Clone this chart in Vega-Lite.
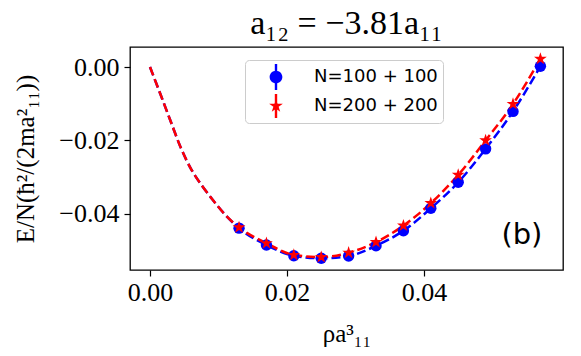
{
  "$schema": "https://vega.github.io/schema/vega-lite/v6.json",
  "width": 433,
  "height": 223,
  "autosize": {"type": "none"},
  "padding": {"left": 130, "top": 47, "right": 18, "bottom": 86},
  "background": "white",
  "title": {
    "text": "a₁₂ = −3.81a₁₁",
    "font": "Liberation Serif",
    "fontSize": 34,
    "fontWeight": "normal",
    "color": "black",
    "anchor": "middle",
    "offset": 6
  },
  "config": {
    "view": {"stroke": "black", "strokeWidth": 1.3},
    "axis": {
      "grid": false,
      "domain": false,
      "labelFont": "Liberation Serif",
      "labelFontSize": 26,
      "labelColor": "black",
      "tickColor": "black",
      "tickSize": 6,
      "tickWidth": 1.2,
      "titleFont": "Liberation Serif",
      "titleFontSize": 25,
      "titleFontWeight": "normal",
      "titleColor": "black"
    }
  },
  "datasets": {
    "points": [
      {"x": 0.013, "y": -0.0439, "series": "N=100 + 100"},
      {"x": 0.017, "y": -0.0485, "series": "N=100 + 100"},
      {"x": 0.021, "y": -0.0514, "series": "N=100 + 100"},
      {"x": 0.025, "y": -0.0521, "series": "N=100 + 100"},
      {"x": 0.029, "y": -0.0515, "series": "N=100 + 100"},
      {"x": 0.033, "y": -0.0487, "series": "N=100 + 100"},
      {"x": 0.037, "y": -0.0446, "series": "N=100 + 100"},
      {"x": 0.041, "y": -0.0385, "series": "N=100 + 100"},
      {"x": 0.045, "y": -0.0314, "series": "N=100 + 100"},
      {"x": 0.049, "y": -0.0223, "series": "N=100 + 100"},
      {"x": 0.053, "y": -0.0121, "series": "N=100 + 100"},
      {"x": 0.057, "y": 0.0002, "series": "N=100 + 100"},
      {"x": 0.013, "y": -0.0437, "series": "N=200 + 200"},
      {"x": 0.017, "y": -0.0480, "series": "N=200 + 200"},
      {"x": 0.021, "y": -0.0512, "series": "N=200 + 200"},
      {"x": 0.025, "y": -0.0518, "series": "N=200 + 200"},
      {"x": 0.029, "y": -0.0506, "series": "N=200 + 200"},
      {"x": 0.033, "y": -0.0477, "series": "N=200 + 200"},
      {"x": 0.037, "y": -0.0432, "series": "N=200 + 200"},
      {"x": 0.041, "y": -0.0371, "series": "N=200 + 200"},
      {"x": 0.045, "y": -0.0294, "series": "N=200 + 200"},
      {"x": 0.049, "y": -0.0200, "series": "N=200 + 200"},
      {"x": 0.053, "y": -0.0101, "series": "N=200 + 200"},
      {"x": 0.057, "y": 0.0022, "series": "N=200 + 200"}
    ],
    "fits": [
      {"x": 0.0, "y": 0.0, "series": "N=100 + 100"},
      {"x": 0.0015, "y": -0.0073, "series": "N=100 + 100"},
      {"x": 0.003, "y": -0.0147, "series": "N=100 + 100"},
      {"x": 0.0045, "y": -0.0220, "series": "N=100 + 100"},
      {"x": 0.006, "y": -0.0278, "series": "N=100 + 100"},
      {"x": 0.0075, "y": -0.0321, "series": "N=100 + 100"},
      {"x": 0.009, "y": -0.0358, "series": "N=100 + 100"},
      {"x": 0.011, "y": -0.0403, "series": "N=100 + 100"},
      {"x": 0.013, "y": -0.0439, "series": "N=100 + 100"},
      {"x": 0.017, "y": -0.0485, "series": "N=100 + 100"},
      {"x": 0.021, "y": -0.0514, "series": "N=100 + 100"},
      {"x": 0.025, "y": -0.0521, "series": "N=100 + 100"},
      {"x": 0.029, "y": -0.0515, "series": "N=100 + 100"},
      {"x": 0.033, "y": -0.0487, "series": "N=100 + 100"},
      {"x": 0.037, "y": -0.0446, "series": "N=100 + 100"},
      {"x": 0.041, "y": -0.0385, "series": "N=100 + 100"},
      {"x": 0.045, "y": -0.0314, "series": "N=100 + 100"},
      {"x": 0.049, "y": -0.0223, "series": "N=100 + 100"},
      {"x": 0.053, "y": -0.0121, "series": "N=100 + 100"},
      {"x": 0.057, "y": 0.0002, "series": "N=100 + 100"},
      {"x": 0.0, "y": 0.0, "series": "N=200 + 200"},
      {"x": 0.0015, "y": -0.0073, "series": "N=200 + 200"},
      {"x": 0.003, "y": -0.0147, "series": "N=200 + 200"},
      {"x": 0.0045, "y": -0.0220, "series": "N=200 + 200"},
      {"x": 0.006, "y": -0.0278, "series": "N=200 + 200"},
      {"x": 0.0075, "y": -0.0321, "series": "N=200 + 200"},
      {"x": 0.009, "y": -0.0358, "series": "N=200 + 200"},
      {"x": 0.011, "y": -0.0403, "series": "N=200 + 200"},
      {"x": 0.013, "y": -0.0437, "series": "N=200 + 200"},
      {"x": 0.017, "y": -0.0480, "series": "N=200 + 200"},
      {"x": 0.021, "y": -0.0512, "series": "N=200 + 200"},
      {"x": 0.025, "y": -0.0518, "series": "N=200 + 200"},
      {"x": 0.029, "y": -0.0506, "series": "N=200 + 200"},
      {"x": 0.033, "y": -0.0477, "series": "N=200 + 200"},
      {"x": 0.037, "y": -0.0432, "series": "N=200 + 200"},
      {"x": 0.041, "y": -0.0371, "series": "N=200 + 200"},
      {"x": 0.045, "y": -0.0294, "series": "N=200 + 200"},
      {"x": 0.049, "y": -0.0200, "series": "N=200 + 200"},
      {"x": 0.053, "y": -0.0101, "series": "N=200 + 200"},
      {"x": 0.057, "y": 0.0022, "series": "N=200 + 200"}
    ],
    "annot": [
      {"x": 0.0543, "y": -0.0457, "label": "(b)"}
    ]
  },
  "encoding": {
    "x": {
      "field": "x",
      "type": "quantitative",
      "scale": {"domain": [-0.00292, 0.0603], "nice": false, "zero": false},
      "axis": {"values": [0, 0.02, 0.04], "format": ".2f", "title": "ρa³₁₁", "labelPadding": 3, "titlePadding": 16}
    },
    "y": {
      "field": "y",
      "type": "quantitative",
      "scale": {"domain": [-0.0553, 0.00545], "nice": false, "zero": false},
      "axis": {"values": [0, -0.02, -0.04], "format": ".2f", "title": "E/N(ħ²/(2ma²₁₁))", "labelPadding": 5, "titlePadding": 20}
    }
  },
  "layer": [
    {
      "data": {"name": "fits"},
      "transform": [{"filter": "datum.series == 'N=100 + 100'"}],
      "mark": {"type": "line", "color": "#0000ff", "strokeWidth": 2.5, "strokeDash": [9, 4], "interpolate": "monotone"}
    },
    {
      "data": {"name": "fits"},
      "transform": [{"filter": "datum.series == 'N=200 + 200'"}],
      "mark": {"type": "line", "color": "#ff0000", "strokeWidth": 2.5, "strokeDash": [9, 4], "interpolate": "monotone"}
    },
    {
      "data": {"name": "points"},
      "transform": [{"filter": "datum.series == 'N=100 + 100'"}],
      "mark": {"type": "point", "shape": "circle", "filled": true, "color": "#0000ff", "opacity": 1, "size": 130}
    },
    {
      "data": {"name": "points"},
      "transform": [{"filter": "datum.series == 'N=200 + 200'"}],
      "mark": {"type": "point", "shape": "M0,-1L0.2245,-0.309L0.9511,-0.309L0.3633,0.118L0.5878,0.809L0,0.382L-0.5878,0.809L-0.3633,0.118L-0.9511,-0.309L-0.2245,-0.309Z", "filled": true, "color": "#ff0000", "opacity": 1, "size": 180}
    },
    {
      "data": {"name": "points"},
      "transform": [{"filter": "datum.series == 'none'"}],
      "mark": {"type": "point", "filled": true, "opacity": 1, "size": 576},
      "encoding": {
        "color": {
          "field": "series",
          "type": "nominal",
          "scale": {"domain": ["N=100 + 100", "N=200 + 200"], "range": ["#0000ff", "#ff0000"]},
          "legend": {
            "title": null,
            "orient": "none",
            "legendX": 115,
            "legendY": 13,
            "fillColor": "white",
            "strokeColor": "#cccccc",
            "cornerRadius": 4,
            "padding": 5,
            "rowPadding": 4,
            "symbolSize": 576,
            "symbolOffset": 14,
            "symbolOpacity": 1,
            "symbolStrokeWidth": 0,
            "labelOffset": 26,
            "labelFont": "DejaVu Sans",
            "labelFontSize": 18,
            "labelColor": "black"
          }
        },
        "shape": {
          "field": "series",
          "type": "nominal",
          "scale": {
            "domain": ["N=100 + 100", "N=200 + 200"],
            "range": [
              "M-0.1,-1.08L0.1,-1.08L0.1,1.08L-0.1,1.08Z M0.53,0A0.53,0.53,0,1,1,-0.53,0A0.53,0.53,0,1,1,0.53,0Z",
              "M-0.1,-1.0L0.1,-1.0L0.1,1.0L-0.1,1.0Z M0,-0.6L0.135,-0.186L0.571,-0.185L0.218,0.071L0.353,0.485L0,0.23L-0.353,0.485L-0.218,0.071L-0.571,-0.185L-0.135,-0.186Z"
            ]
          }
        }
      }
    },
    {
      "data": {"name": "annot"},
      "mark": {"type": "text", "font": "DejaVu Sans", "fontSize": 29, "color": "black", "align": "center", "baseline": "middle"},
      "encoding": {"text": {"field": "label", "type": "nominal"}}
    }
  ]
}
